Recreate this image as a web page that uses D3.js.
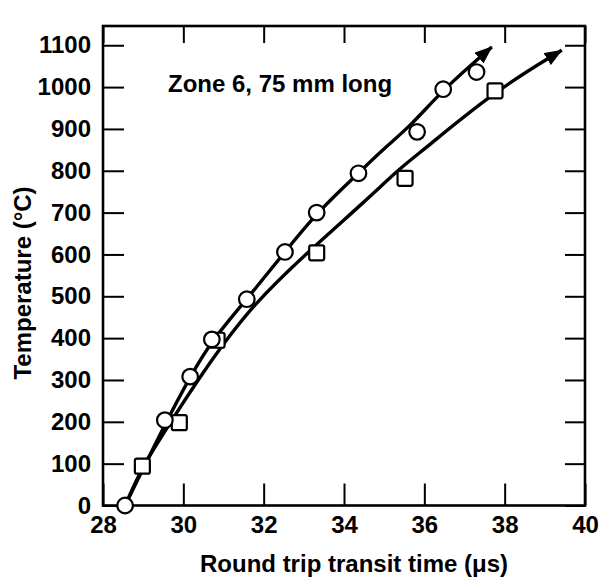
<!DOCTYPE html>
<html><head><meta charset="utf-8">
<script src="https://cdn.jsdelivr.net/npm/d3@7"></script>
<style>
html,body{margin:0;padding:0;background:#fff;}
text{font-family:"Liberation Sans",Arial,sans-serif;font-weight:bold;fill:#000;}
</style></head><body>
<script>
// ---- data ----
const xTicks = [28, 30, 32, 34, 36, 38, 40];
const yTicks = [0, 100, 200, 300, 400, 500, 600, 700, 800, 900, 1000, 1100];
const circleTime = [28.55, 29.54, 30.17, 30.71, 31.58, 32.53, 33.32, 34.36, 35.82, 36.47, 37.30];
const circleTemp = [0, 204, 308, 397, 493, 606, 700, 794, 893, 995, 1036];
const squareTime = [28.98, 29.90, 30.84, 33.32, 35.52, 37.76];
const squareTemp = [94, 198, 395, 604, 782, 991];
// fitted curves (traced)
const curveATime = [28.55, 29.57, 30.17, 30.71, 31.58, 32.53, 33.32, 34.36, 34.94, 35.68, 36.47, 37.68];
const curveATemp = [0, 200, 308, 395, 493, 606, 700, 794, 849, 909, 995, 1096];
const curveBTime = [28.55, 28.98, 29.69, 30.41, 31.66, 33.15, 34.56, 35.39, 35.97, 37.76, 39.42];
const curveBTemp = [0, 94, 200, 308, 475, 610, 730, 806, 849, 991, 1088];
const xDomain = [28, 40];
const yDomain = [0, 1146];
const annotation = "Zone 6, 75 mm long";
const xTitle = "Round trip transit time (\u03bcs)";
const yTitle = "Temperature (\u00b0C)";

const W = 606, H = 577;
const L = 103, R = 585, T = 26, B = 505.5;
const FS = "24px";
const svg = d3.select("body").append("svg").attr("width", W).attr("height", H);
const x = d3.scaleLinear().domain(xDomain).range([L, R]);
const y = d3.scaleLinear().domain(yDomain).range([B, T]);

const defs = svg.append("defs");
defs.append("marker").attr("id","arr").attr("viewBox","0 0 18 14")
  .attr("refX",17).attr("refY",7).attr("markerWidth",18).attr("markerHeight",14)
  .attr("markerUnits","userSpaceOnUse").attr("orient","auto")
  .append("path").attr("d","M0,0 L18,7 L0,14 Z").attr("fill","#000");

function styleAxis(g){
  g.select(".domain").remove();
  g.selectAll(".tick line").attr("stroke","#000").attr("stroke-width",2);
  g.selectAll(".tick text").style("font-size",FS).attr("fill","#000");
}
svg.append("g").attr("transform",`translate(0,${B})`)
  .call(d3.axisBottom(x).tickValues(xTicks).tickSize(-22).tickPadding(10).tickFormat(d3.format("d")))
  .call(styleAxis);
svg.append("g").attr("transform",`translate(${L},0)`)
  .call(d3.axisLeft(y).tickValues(yTicks).tickSize(-21).tickPadding(12).tickFormat(d3.format("d")))
  .call(styleAxis);
svg.append("g").attr("transform",`translate(0,${T})`)
  .call(d3.axisTop(x).tickValues(xTicks).tickSize(-17).tickFormat(""))
  .call(styleAxis);
svg.append("g").attr("transform",`translate(${R},0)`)
  .call(d3.axisRight(y).tickValues(yTicks).tickSize(-20).tickFormat(""))
  .call(styleAxis);

svg.append("rect").attr("x",L).attr("y",T).attr("width",R-L).attr("height",B-T)
  .attr("fill","none").attr("stroke","#000").attr("stroke-width",2.6);

const line = d3.line().x(d=>x(d[0])).y(d=>y(d[1])).curve(d3.curveBasis);
const cA = curveATime.map((t,i)=>[t,curveATemp[i]]);
const cB = curveBTime.map((t,i)=>[t,curveBTemp[i]]);
[cA,cB].forEach(c=>{
  svg.append("path").datum(c).attr("d",line).attr("fill","none")
    .attr("stroke","#000").attr("stroke-width",3.4).attr("marker-end","url(#arr)");
});

const sq = 15;
svg.append("g").selectAll("rect").data(squareTime.map((t,i)=>[t,squareTemp[i]])).join("rect")
  .attr("x",d=>x(d[0])-sq/2).attr("y",d=>y(d[1])-sq/2).attr("width",sq).attr("height",sq)
  .attr("rx",2).attr("fill","#fff").attr("stroke","#000").attr("stroke-width",2.2);
svg.append("g").selectAll("circle").data(circleTime.map((t,i)=>[t,circleTemp[i]])).join("circle")
  .attr("cx",d=>x(d[0])).attr("cy",d=>y(d[1])).attr("r",7.8)
  .attr("fill","#fff").attr("stroke","#000").attr("stroke-width",2.2);

svg.append("text").attr("x",168).attr("y",92).style("font-size",FS).text(annotation);
svg.append("text").attr("x",354).attr("y",572).attr("text-anchor","middle").style("font-size",FS).text(xTitle);
svg.append("text").attr("transform","translate(31,283) rotate(-90)").attr("text-anchor","middle")
  .style("font-size",FS).text(yTitle);
</script>
</body></html>
